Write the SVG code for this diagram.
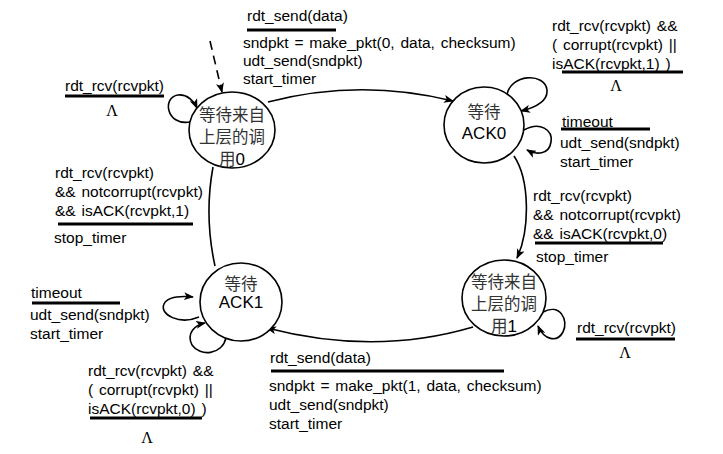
<svg xmlns="http://www.w3.org/2000/svg" width="723" height="454" viewBox="0 0 723 454">
<defs>
<marker id="arr" markerWidth="10" markerHeight="8" refX="9" refY="4" orient="auto" markerUnits="userSpaceOnUse">
<path d="M0,0 L10,4 L0,8 L2.5,4 z" fill="#000"/>
</marker>
<style>
.t{font-family:"Liberation Sans",Arial,sans-serif;font-size:15.5px;word-spacing:1.5px;fill:#000}
.cn{font-family:"Noto Sans CJK SC","Liberation Sans",sans-serif;font-size:16.5px;fill:#333}
.en{font-family:"Liberation Sans",Arial,sans-serif;font-size:17px;fill:#000}
.lam{font-family:"Liberation Serif","Times New Roman",serif;font-size:16px;fill:#000}
.st{fill:#fff;stroke:#000;stroke-width:1.6}
.e{fill:none;stroke:#000;stroke-width:1.6}
.u{stroke:#000;stroke-width:3}
</style>
</defs>
<rect width="723" height="454" fill="#fff"/>

<g id="connectors">
<path class="e" d="M210,41 L222,92" stroke-dasharray="9,6" marker-end="url(#arr)"/>
<path class="e" d="M268,102 Q360,78 453,101" marker-end="url(#arr)"/>
<path class="e" d="M190,122 C166,126 162,97 178,95 C187,94 194,101 197,108" marker-end="url(#arr)"/>
<path class="e" d="M507,95 C510,74 545,72 547,90 C548,102 533,108 521,111" marker-end="url(#arr)"/>
<path class="e" d="M524,130 C540,121 553,130 551,142 C549,155 536,155 527,150" marker-end="url(#arr)"/>
<path class="e" d="M514,156 C530,180 530,230 517,258" marker-end="url(#arr)"/>
<path class="e" d="M543,312 C560,303 569,320 563,332 C557,343 544,340 538,326" marker-end="url(#arr)"/>
<path class="e" d="M473,327 Q375,356 267,328" marker-end="url(#arr)"/>
<path class="e" d="M199,317 C180,325 159,315 164,304 C168,296 182,296 193,297" marker-end="url(#arr)"/>
<path class="e" d="M226,338 C222,355 200,357 192,345 C186,333 195,325 205,323" marker-end="url(#arr)"/>
<path class="e" d="M213,167 Q204,216 215,266"/>
</g>

<g id="s0">
<ellipse class="st" cx="232" cy="130" rx="43" ry="38"/>
<text class="cn" x="232" y="121" text-anchor="middle">等待来自</text>
<text class="cn" x="232" y="143" text-anchor="middle">上层的调</text>
<text x="232" y="165" text-anchor="middle"><tspan class="cn">用</tspan><tspan class="en">0</tspan></text>
</g>

<g id="s1">
<ellipse class="st" cx="484" cy="125" rx="40" ry="38"/>
<text class="cn" x="484" y="118" text-anchor="middle">等待</text>
<text class="en" x="484" y="139" text-anchor="middle">ACK0</text>
</g>

<g id="s2">
<ellipse class="st" cx="504" cy="298" rx="42" ry="38"/>
<text class="cn" x="504" y="288" text-anchor="middle">等待来自</text>
<text class="cn" x="504" y="310" text-anchor="middle">上层的调</text>
<text x="504" y="332" text-anchor="middle"><tspan class="cn">用</tspan><tspan class="en">1</tspan></text>
</g>

<g id="s3">
<ellipse class="st" cx="241" cy="302" rx="41" ry="39"/>
<text class="cn" x="241" y="290" text-anchor="middle">等待</text>
<text class="en" x="241" y="308" text-anchor="middle">ACK1</text>
</g>

<g id="labels">
<text class="t" x="247" y="21">rdt_send(data)</text>
<line class="u" x1="247" y1="30" x2="336" y2="30"/>
<text class="t" x="243" y="48">sndpkt = make_pkt(0, data, checksum)</text>
<text class="t" x="243" y="66">udt_send(sndpkt)</text>
<text class="t" x="243" y="84">start_timer</text>

<text class="t" x="65" y="91">rdt_rcv(rcvpkt)</text>
<line class="u" x1="65" y1="96" x2="164" y2="96"/>
<text class="lam" x="112" y="116" text-anchor="middle">Λ</text>

<text class="t" x="552" y="31">rdt_rcv(rcvpkt) &amp;&amp;</text>
<text class="t" x="552" y="50">( corrupt(rcvpkt) ||</text>
<text class="t" x="552" y="69">isACK(rcvpkt,1) )</text>
<line class="u" x1="562" y1="72" x2="683" y2="72"/>
<text class="lam" x="616" y="91" text-anchor="middle">Λ</text>

<text class="t" x="562" y="127">timeout</text>
<line class="u" x1="561" y1="129" x2="650" y2="129"/>
<text class="t" x="560" y="148">udt_send(sndpkt)</text>
<text class="t" x="560" y="167">start_timer</text>

<text class="t" x="533" y="201">rdt_rcv(rcvpkt)</text>
<text class="t" x="533" y="220">&amp;&amp; notcorrupt(rcvpkt)</text>
<text class="t" x="533" y="239">&amp;&amp; isACK(rcvpkt,0)</text>
<line class="u" x1="535" y1="243" x2="663" y2="243"/>
<text class="t" x="536" y="262">stop_timer</text>

<text class="t" x="577" y="333">rdt_rcv(rcvpkt)</text>
<line class="u" x1="576" y1="339" x2="675" y2="339"/>
<text class="lam" x="625" y="358" text-anchor="middle">Λ</text>

<text class="t" x="270" y="363">rdt_send(data)</text>
<line class="u" x1="271" y1="371" x2="504" y2="371"/>
<text class="t" x="269" y="391">sndpkt = make_pkt(1, data, checksum)</text>
<text class="t" x="269" y="410">udt_send(sndpkt)</text>
<text class="t" x="269" y="429">start_timer</text>

<text class="t" x="88" y="376">rdt_rcv(rcvpkt) &amp;&amp;</text>
<text class="t" x="88" y="395">( corrupt(rcvpkt) ||</text>
<text class="t" x="88" y="414">isACK(rcvpkt,0) )</text>
<line class="u" x1="90" y1="418" x2="202" y2="418"/>
<text class="lam" x="147" y="443" text-anchor="middle">Λ</text>

<text class="t" x="31" y="298">timeout</text>
<line class="u" x1="32" y1="303" x2="120" y2="303"/>
<text class="t" x="30" y="320">udt_send(sndpkt)</text>
<text class="t" x="30" y="339">start_timer</text>

<text class="t" x="55" y="178">rdt_rcv(rcvpkt)</text>
<text class="t" x="55" y="197">&amp;&amp; notcorrupt(rcvpkt)</text>
<text class="t" x="55" y="216">&amp;&amp; isACK(rcvpkt,1)</text>
<line class="u" x1="58" y1="224" x2="193" y2="224"/>
<text class="t" x="54" y="243">stop_timer</text>
</g>
</svg>
